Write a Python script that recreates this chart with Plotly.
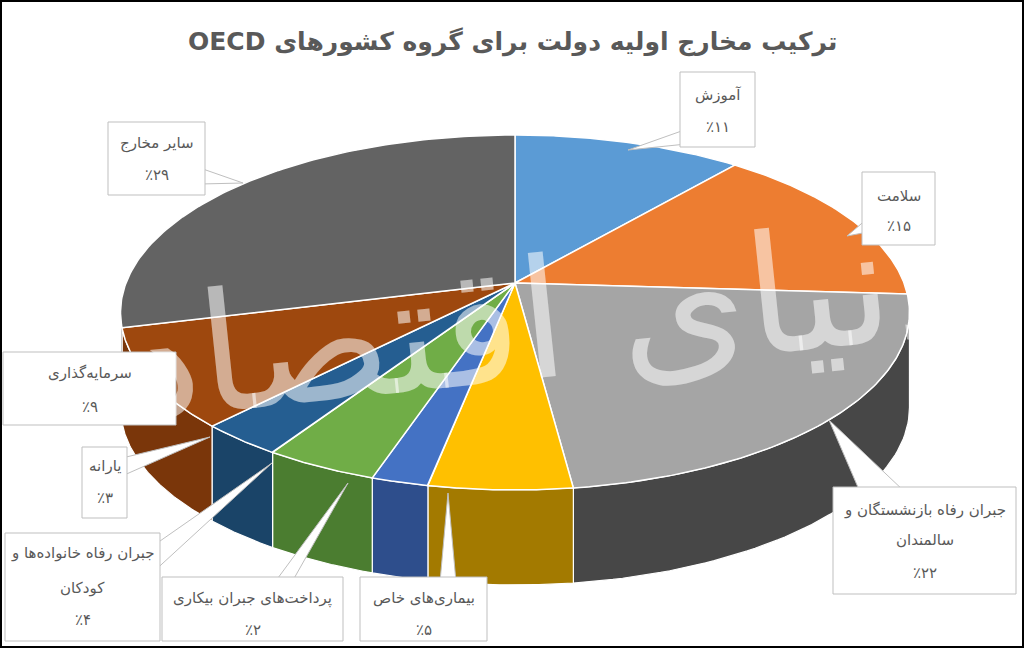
import numpy as np
import plotly.graph_objects as go

# data
labels = ['آموزش', 'سلامت', 'جبران رفاه بازنشستگان و سالمندان', 'بیماری\u200cهای خاص',
          'پرداخت\u200cهای جبران بیکاری', 'جبران رفاه خانواده\u200cها و کودکان', 'یارانه',
          'سرمایه\u200cگذاری', 'سایر مخارج']
values = [11, 15, 22, 5, 2, 4, 3, 9, 29]
top_colors = ['#5B9BD5', '#ED7D31', '#A5A5A5', '#FFC000', '#4472C4', '#70AD47', '#255E91', '#9E480E', '#636363']
side_colors = ['#3F73A6', '#B45A1E', '#474747', '#A37A00', '#2E4E8C', '#4B7D30', '#1A4468', '#7A360A', '#474747']

# label lines shown in each callout (name split where the box wraps)
label_lines = [['آموزش'], ['سلامت'], ['جبران رفاه بازنشستگان و', 'سالمندان'], ['بیماری\u200cهای خاص'],
               ['پرداخت\u200cهای جبران بیکاری'], ['جبران رفاه خانواده\u200cها و', 'کودکان'], ['یارانه'],
               ['سرمایه\u200cگذاری'], ['سایر مخارج']]

title = '\u202bترکیب مخارج اولیه دولت برای گروه کشورهای OECD\u202c'

fa_digits = str.maketrans('0123456789', '۰۱۲۳۴۵۶۷۸۹')

# 3d pie geometry (pixel space)
cx, cy = 515, 283
A, B, e = 389, 172.6, 0.166
depth = 95


def proj(theta):
    t = np.radians(theta)
    d = 1 + e * np.cos(t)
    return cx + A * np.sin(t) / d, cy - B * np.cos(t) / d


lo = np.degrees(np.arccos(-e))
hi = 360 - lo

fig = go.Figure()

cum = np.cumsum([0] + values) / sum(values) * 360

# side walls
for i in range(len(values)):
    s0, s1 = max(cum[i], lo), min(cum[i + 1], hi)
    if s1 <= s0:
        continue
    th = np.linspace(s0, s1, 60)
    x, y = proj(th)
    xs = np.concatenate([x, x[::-1], x[:1]])
    ys = np.concatenate([y, y[::-1] + depth, y[:1]])
    fig.add_trace(go.Scatter(x=xs, y=ys, fill='toself', fillcolor=side_colors[i], mode='lines',
                             line=dict(color='white', width=1.2), hoverinfo='skip', showlegend=False))

# top faces
for i in range(len(values)):
    th = np.linspace(cum[i], cum[i + 1], 120)
    x, y = proj(th)
    xs = np.concatenate([[cx], x, [cx]])
    ys = np.concatenate([[cy], y, [cy]])
    fig.add_trace(go.Scatter(x=xs, y=ys, fill='toself', fillcolor=top_colors[i], mode='lines',
                             line=dict(color='white', width=1.5), hoverinfo='skip', showlegend=False,
                             name=labels[i]))

# watermark
fig.add_annotation(x=545, y=320, text='دنیای اقتصاد', showarrow=False, textangle=-6,
                   font=dict(family='DejaVu Sans', size=165, color='rgba(255,255,255,0.55)'))

# callouts: box (x0, x1, y0, y1), text y positions, wedge base points and tip
callouts = [
    ((680, 755, 72, 147), [95, 127], [(690, 128), (706, 142)], (628, 150)),
    ((862, 935, 172, 245), [196, 226], [(868, 218), (868, 232)], (847, 236)),
    ((833, 1016, 487, 594), [510, 540, 573], [(860, 492), (905, 492)], (829, 420)),
    ((360, 487, 577, 641), [598, 630], [(440, 582), (456, 582)], (448, 493)),
    ((162, 343, 577, 641), [598, 630], [(275, 582), (292, 582)], (348, 483)),
    ((5, 160, 533, 641), [553, 588, 620], [(150, 548), (150, 575)], (272, 463)),
    ((82, 127, 447, 518), [466, 498], [(122, 458), (122, 476)], (210, 437)),
    ((3, 176, 352, 425), [373, 407], None, None),
    ((108, 205, 122, 195), [143, 175], [(200, 168), (200, 184)], (243, 183)),
]

line_c = '#BFBFBF'
text_c = '#595959'
for i, (box, ys, base, tip) in enumerate(callouts):
    x0, x1, y0, y1 = box
    if base is not None:
        p = 'M {} {} L {} {} L {} {} Z'.format(base[0][0], base[0][1], tip[0], tip[1], base[1][0], base[1][1])
        fig.add_shape(type='path', path=p, fillcolor='white', line=dict(color=line_c, width=1))
    fig.add_shape(type='rect', x0=x0, x1=x1, y0=y0, y1=y1, fillcolor='white',
                  line=dict(color=line_c, width=1))
    lines = label_lines[i] + ['٪' + str(values[i]).translate(fa_digits)]
    for t, yy in zip(lines, ys):
        fig.add_annotation(x=(x0 + x1) / 2, y=yy, text=t, showarrow=False,
                           font=dict(family='DejaVu Sans', size=15, color=text_c))

fig.add_annotation(x=512, y=42, text='<b>' + title + '</b>', showarrow=False,
                   font=dict(family='DejaVu Sans', size=25, color=text_c))

# outer frame
fig.add_shape(type='rect', x0=1, x1=1023, y0=1, y1=647, line=dict(color='black', width=2))

fig.update_layout(
    paper_bgcolor='white', plot_bgcolor='white',
    margin=dict(l=0, r=0, t=0, b=0),
    xaxis=dict(range=[0, 1024], visible=False, fixedrange=True),
    yaxis=dict(range=[648, 0], visible=False, fixedrange=True),
    showlegend=False,
)

fig.write_html('out.html', config={'displayModeBar': False},
               post_script="document.body.style.margin='0';Plotly.Plots.resize(document.getElementById('{plot_id}'));")
